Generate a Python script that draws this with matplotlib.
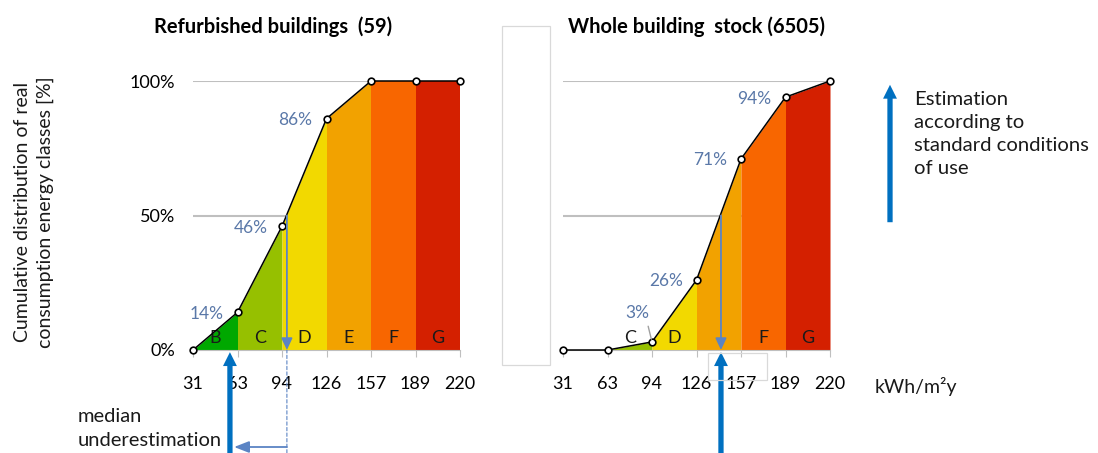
import matplotlib.pyplot as plt
from matplotlib.patches import FancyArrowPatch, Rectangle

plt.rcParams['font.family'] = ['Lato', 'DejaVu Sans']

# x categories (kWh/m2y class limits) and cumulative shares
x_labels = ['31', '63', '94', '126', '157', '189', '220']
refurb = [0.00, 0.14, 0.46, 0.86, 1.00, 1.00, 1.00]
stock = [0.00, 0.00, 0.03, 0.26, 0.71, 0.94, 1.00]

class_colors = ['#00a800', '#96c000', '#f2d900', '#f2a200', '#f86600', '#d42000']
letters_refurb = ['B', 'C', 'D', 'E', 'F', 'G']
letters_stock = ['', 'C', 'D', '', 'F', 'G']

show_refurb = [1, 2, 3]
show_stock = [2, 3, 4, 5]

# positions on the category axis (index units)
median_refurb = 2.11
median_stock = 3.55
estimate_refurb = 0.83
estimate_stock = 3.55

blue = '#0070c0'
steel = '#5b84c4'
label_col = '#5a78a8'
grid_col = '#bfbfbf'
txt = '#1a1a1a'

fig = plt.figure(figsize=(10.98, 4.53), dpi=100)
axL = fig.add_axes([193 / 1098, 103 / 453, 267 / 1098, 269 / 453])
axR = fig.add_axes([563 / 1098, 103 / 453, 267 / 1098, 269 / 453])


def panel(ax, vals, letters, show, yticks):
    xs = list(range(len(vals)))
    ax.set_xlim(0, len(vals) - 1)
    ax.set_ylim(0, 1)
    for g in (0.5, 1.0):
        ax.axhline(g, color=grid_col, lw=1.5, zorder=0)
    for i in range(len(vals) - 1):
        ax.fill_between(xs[i:i + 2], vals[i:i + 2], 0, color=class_colors[i],
                        lw=0, zorder=1)
        if letters[i]:
            ax.text(i + 0.5, 0.045, letters[i], ha='center', va='center',
                    fontsize=13, color=txt, zorder=3)
    ax.plot(xs, vals, color='black', lw=1.1, marker='o', ms=4.8, mfc='white',
            mec='black', mew=1.2, clip_on=False, zorder=4)
    ax.set_xticks(xs)
    ax.set_xticklabels(x_labels, fontsize=13)
    ax.tick_params(axis='x', length=5, color=grid_col, pad=14)
    if yticks:
        ax.set_yticks([0, 0.5, 1])
        ax.set_yticklabels(['0%', '50%', '100%'], fontsize=13)
        ax.tick_params(axis='y', length=0, pad=13)
    else:
        ax.set_yticks([])
    for s in ('top', 'right', 'left'):
        ax.spines[s].set_visible(False)
    ax.spines['bottom'].set_color(grid_col)
    for i in show:
        if i == 2 and vals is stock:
            ax.annotate(f'{vals[i]*100:.0f}%', xy=(i, vals[i]), xytext=(-2, 21),
                        textcoords='offset points', ha='right', va='center',
                        color=label_col, fontsize=12.5, zorder=5,
                        arrowprops=dict(arrowstyle='-', color='#a0a0a0', lw=1,
                                        shrinkA=2, shrinkB=2, relpos=(0.9, 0)))
        else:
            ax.annotate(f'{vals[i]*100:.0f}%', xy=(i, vals[i]), xytext=(-10, -1),
                        textcoords='offset points', ha='right', va='center',
                        color=label_col, fontsize=12.5, zorder=5)


panel(axL, refurb, letters_refurb, show_refurb, True)
panel(axR, stock, letters_stock, show_stock, False)

fig.text(273 / 1098, 1 - 27 / 453, 'Refurbished buildings  (59)', ha='center',
         va='center', fontsize=14.5, fontweight='bold', color='black')
fig.text(696 / 1098, 1 - 27 / 453, 'Whole building  stock (6505)', ha='center',
         va='center', fontsize=14.5, fontweight='bold', color='black')

# median arrows (50% down to the x axis)
for ax, m in ((axL, median_refurb), (axR, median_stock)):
    ax.annotate('', xy=(m, 0), xytext=(m, 0.5),
                arrowprops=dict(arrowstyle='-|>,head_length=0.7,head_width=0.33',
                                color=steel, lw=1.3, shrinkA=0, shrinkB=0),
                zorder=6, annotation_clip=False)

# dashed continuation of the refurbished median below the axis
axL.annotate('', xy=(median_refurb, 0), xytext=(median_refurb, 0),
             textcoords=('data', 'figure fraction'), xycoords='data',
             arrowprops=dict(arrowstyle='-', color=steel, lw=0.8, ls=(0, (3, 2)),
                             shrinkA=0, shrinkB=0), annotation_clip=False)

# horizontal "median underestimation" arrow
axL.annotate('', xy=(estimate_refurb, 6 / 453), xycoords=('data', 'figure fraction'),
             xytext=(median_refurb, 6 / 453), textcoords=('data', 'figure fraction'),
             arrowprops=dict(arrowstyle='-|>,head_length=0.9,head_width=0.35',
                             color=steel, lw=1.3, shrinkA=0, shrinkB=3),
             annotation_clip=False)

# thick blue estimation arrows
for ax, e in ((axL, estimate_refurb), (axR, estimate_stock)):
    ax.annotate('', xy=(e, -0.008), xycoords='data',
                xytext=(e, 0), textcoords=('data', 'figure fraction'),
                arrowprops=dict(arrowstyle='simple,head_length=1.0,head_width=1.0,tail_width=0.38',
                                color=blue, lw=0, shrinkA=0, shrinkB=0),
                zorder=7, annotation_clip=False)

# legend arrow + text
fig.add_artist(FancyArrowPatch((890 / 1098, 1 - 225 / 453), (890 / 1098, 1 - 82 / 453),
                               transform=fig.transFigure, color=blue, lw=0,
                               arrowstyle='simple,head_length=1.0,head_width=1.0,tail_width=0.38',
                               mutation_scale=10))
fig.text(914 / 1098, 1 - 134 / 453, 'Estimation\naccording to\nstandard conditions\nof use',
         ha='left', va='center', fontsize=14.6, linespacing=1.42, color=txt)

fig.text(875 / 1098, 1 - 387 / 453, 'kWh/m²y', ha='left', va='center', fontsize=14,
         color=txt)

fig.text(78 / 1098, 1 - 429 / 453, 'median\nunderestimation', ha='left', va='center',
         fontsize=14.5, linespacing=1.5, color=txt)

fig.text(34 / 1098, 1 - 212 / 453,
         'Cumulative distribution of real\nconsumption energy classes [%]',
         rotation=90, ha='center', va='center', fontsize=14, linespacing=1.35,
         color=txt)

# faint boxes left over in the original figure
fig.add_artist(Rectangle((502 / 1098, 1 - 365 / 453), 48 / 1098, 339 / 453,
                         transform=fig.transFigure, fill=False, ec='#d9d9d9', lw=0.9))
fig.add_artist(Rectangle((708 / 1098, 1 - 380 / 453), 59 / 1098, 27 / 453,
                         transform=fig.transFigure, fill=False, ec='#d9d9d9', lw=0.9))

fig.savefig('out.png', dpi=100)
